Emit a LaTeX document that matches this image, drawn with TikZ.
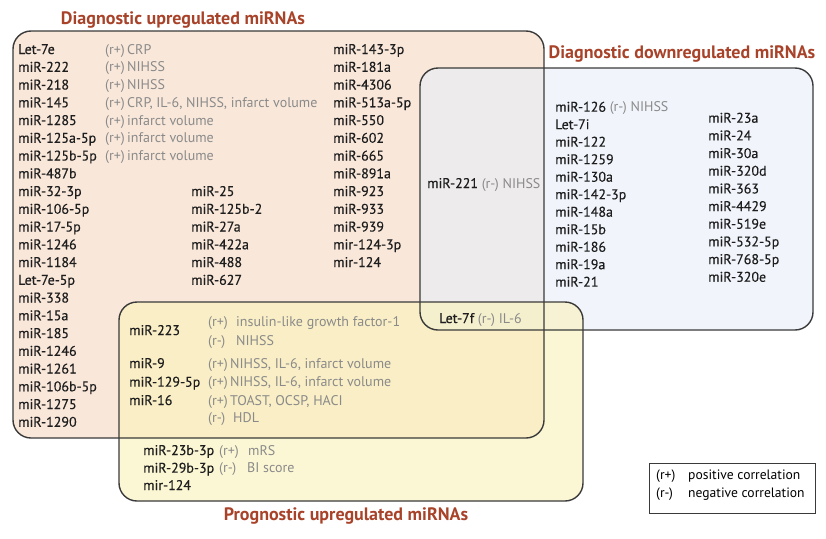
\documentclass[tikz,border=0pt]{standalone}
\usepackage{fontspec}
\setmainfont{PT Sans}
\newfontfamily\nmfont[FakeBold=0.35]{PT Sans}
\definecolor{ttl}{HTML}{A8432A}
\definecolor{upfill}{HTML}{F9E8DA}
\definecolor{downfill}{HTML}{E8EEF8}
\definecolor{progfill}{HTML}{F9F2B8}
\definecolor{edge}{HTML}{3A3A3A}
\definecolor{corr}{HTML}{8A8A8A}
\definecolor{nmc}{HTML}{1E1E1E}
\tikzset{
  setbox/.style={draw=edge, line width=1.4pt, rounded corners=18pt, inner sep=0pt},
  nm/.style={anchor=base west, inner sep=0pt, text=nmc, font=\nmfont\fontsize{14}{16}\selectfont},
  cr/.style={anchor=base west, inner sep=0pt, text=corr, font=\fontsize{14}{16}\selectfont},
  ttlnode/.style={anchor=base, inner sep=0pt, text=ttl, font=\fontsize{18}{20}\selectfont\bfseries},
  legnode/.style={anchor=base west, inner sep=0pt, text=black, font=\fontsize{13.6}{15}\selectfont}
}
\newcommand{\cor}[1]{{\normalfont\fontsize{14}{16}\selectfont\textcolor{corr}{#1}}}
\begin{document}
\begin{tikzpicture}[x=1pt,y=-1pt]
\useasboundingbox (0,0) rectangle (826,538);
% fills
\fill[upfill, rounded corners=18pt] (13,31) rectangle (544,438);
\fill[downfill, fill opacity=0.6, rounded corners=18pt] (420,68) rectangle (813,330);
\fill[progfill, fill opacity=0.6, rounded corners=18pt] (119,302) rectangle (583,501);
% borders as named nodes
\node[setbox, minimum width=531pt, minimum height=407pt] (up) at (278.5,234.5) {};
\node[setbox, minimum width=393pt, minimum height=262pt] (down) at (616.5,199) {};
\node[setbox, minimum width=464pt, minimum height=199pt] (prog) at (351,401.5) {};
% titles
\node[ttlnode] (tup) at (183,24) {Diagnostic upregulated miRNAs};
\node[ttlnode] (tdown) at (682,58) {Diagnostic downregulated miRNAs};
\node[ttlnode] (tprog) at (346,520) {Prognostic upregulated miRNAs};
% diagnostic upregulated: left column
\foreach \t [count=\i from 0] in {Let-7e,miR-222,miR-218,miR-145,miR-1285,miR-125a-5p,miR-125b-5p,miR-487b,miR-32-3p,miR-106-5p,miR-17-5p,miR-1246,miR-1184,Let-7e-5p,miR-338,miR-15a,miR-185,miR-1246,miR-1261,miR-106b-5p,miR-1275,miR-1290}
  \node[nm] (ua\i) at (18,{54+17.75*\i}) {\t};
\foreach \t [count=\i from 0] in {{(r+)\,CRP},{(r+)\,NIHSS},{(r+)\,NIHSS},{(r+)\,CRP, IL-6, NIHSS, infarct volume},{(r+)\,infarct volume},{(r+)\,infarct volume},{(r+)\,infarct volume}}
  \node[cr] (uc\i) at (105,{54+17.75*\i}) {\t};
\foreach \t [count=\i from 8] in {miR-25,miR-125b-2,miR-27a,miR-422a,miR-488,miR-627}
  \node[nm] (ub\i) at (191,{54+17.75*\i}) {\t};
\foreach \t [count=\i from 0] in {miR-143-3p,miR-181a,miR-4306,miR-513a-5p,miR-550,miR-602,miR-665,miR-891a,miR-923,miR-933,miR-939,mir-124-3p,mir-124}
  \node[nm] (ud\i) at (333,{54+17.75*\i}) {\t};
% overlap up/down
\node[nm] (m221) at (427,188) {miR-221 \cor{(r-) NIHSS}};
% diagnostic downregulated
\foreach \t [count=\i from 0] in {{miR-126 \cor{(r-) NIHSS}},Let-7i,miR-122,miR-1259,miR-130a,miR-142-3p,miR-148a,miR-15b,miR-186,miR-19a,miR-21}
  \node[nm] (da\i) at (555,{111.7+17.5*\i}) {\t};
\foreach \t [count=\i from 0] in {miR-23a,miR-24,miR-30a,miR-320d,miR-363,miR-4429,miR-519e,miR-532-5p,miR-768-5p,miR-320e}
  \node[nm] (db\i) at (708,{122.7+17.67*\i}) {\t};
% triple overlap
\node[nm] (l7f) at (439,323) {Let-7f \cor{(r-) IL-6}};
% up/prog overlap
\node[nm] (m223) at (129,335) {miR-223};
\node[cr] (c223a) at (208,326.7) {(r+)};
\node[cr] (c223b) at (236,326.7) {insulin-like growth factor-1};
\node[cr] (c223c) at (208,345) {(r-)};
\node[cr] (c223d) at (236,345) {NIHSS};
\node[nm] (m9) at (129,368) {miR-9};
\node[cr] (c9) at (208,368) {(r+)\,NIHSS, IL-6, infarct volume};
\node[nm] (m129) at (129,386.7) {miR-129-5p};
\node[cr] (c129) at (208,386.7) {(r+)\,NIHSS, IL-6, infarct volume};
\node[nm] (m16) at (129,405) {miR-16};
\node[cr] (c16a) at (208,405) {(r+)\,TOAST, OCSP, HACI};
\node[cr] (c16b) at (208,422) {(r-)};
\node[cr] (c16c) at (233,422) {HDL};
% prognostic only
\node[nm] (m23b) at (143,455) {miR-23b-3p};
\node[cr] (c23a) at (219,455) {(r+)};
\node[cr] (c23b) at (248,455) {mRS};
\node[nm] (m29b) at (143,472.7) {miR-29b-3p};
\node[cr] (c29a) at (219,472.7) {(r-)};
\node[cr] (c29b) at (247,472.7) {BI score};
\node[nm] (m124) at (143,490) {mir-124};
% legend
\node[draw=edge, line width=0.9pt, minimum width=166pt, minimum height=50pt, inner sep=0pt] (leg) at (732,488) {};
\node[legnode] (lg1a) at (656,479) {(r+)};
\node[legnode] (lg1b) at (688,479) {positive correlation};
\node[legnode] (lg2a) at (656,497) {(r-)};
\node[legnode] (lg2b) at (688,497) {negative correlation};
\end{tikzpicture}
\end{document}
